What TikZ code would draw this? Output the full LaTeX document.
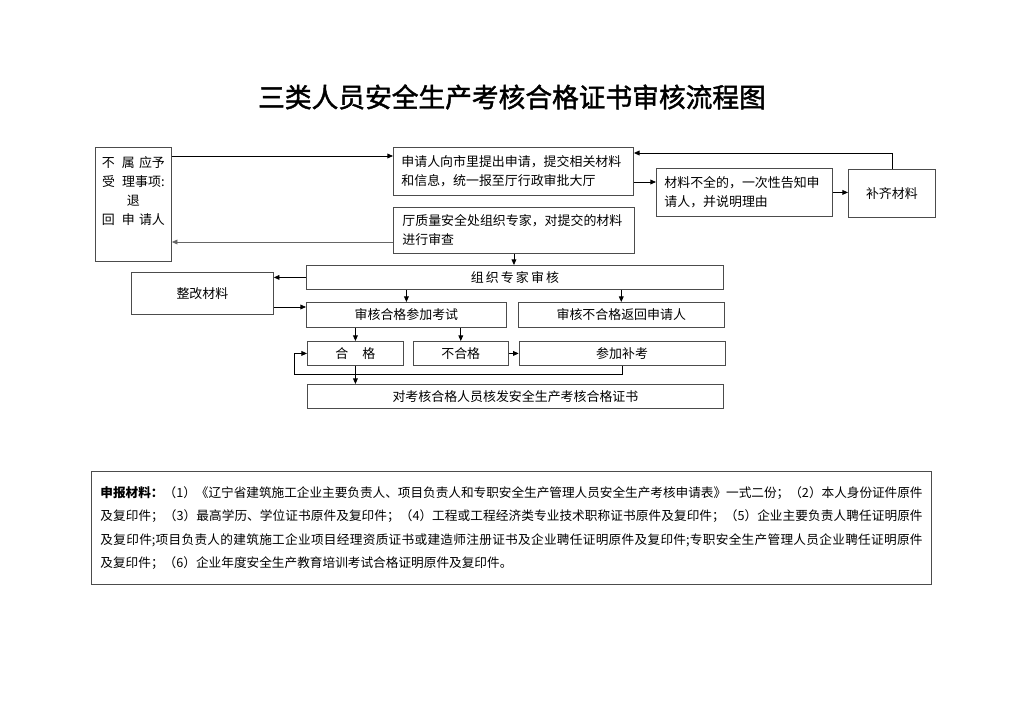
\documentclass[tikz,border=0pt]{standalone}
\usepackage{fontspec}
\newfontfamily\cjk{Noto Sans CJK SC}
\newfontfamily\cjktitle[FakeBold=1.6]{Noto Sans CJK SC}
\usetikzlibrary{arrows.meta,positioning}
\newcommand{\pxu}{0.025cm}

\begin{document}
\begin{tikzpicture}[x=0.025cm,y=-0.025cm,
		box/.style={draw=black!70,line width=0.6pt,inner sep=0pt,anchor=north west,font=\cjk\fontsize{9.2}{13.6}\selectfont},
		arr/.style={-{Triangle[length=4pt,width=3.4pt]},line width=0.6pt}]
	\useasboundingbox (0,0) rectangle (1024,724);
	% title
	\node (title) [font=\cjktitle\fontsize{19}{19}\selectfont] at (512,97) {三类人员安全生产考核合格证书审核流程图};
	% upper part
	\node (butui) [box,minimum width=76*\pxu,minimum height=114*\pxu] at (95,147) {\parbox[c][2.85cm][t]{1.9cm}{\centering\vspace*{6.5pt}不\hspace{5pt}属\hspace{3pt}应予\\受\hspace{5pt}理事项:\\退\\回\hspace{5pt}申\hspace{3pt}请人}};
	\node (shenqing) [box,minimum width=240*\pxu,minimum height=48*\pxu,text width=5.6cm,inner xsep=8*\pxu,align=left] at (393,147) {申请人向市里提出申请，提交相关材料\\和信息，统一报至厅行政审批大厅};
	\node (shencha) [box,minimum width=241*\pxu,minimum height=46*\pxu,text width=5.575cm,inner xsep=9*\pxu,align=left] at (393,207) {厅质量安全处组织专家，对提交的材料\\进行审查};
	\node (queshao) [box,minimum width=176*\pxu,minimum height=48*\pxu,text width=4cm,inner xsep=8*\pxu,align=left] at (656,168) {材料不全的，一次性告知申\\请人，并说明理由};
	\node (buqi) [box,minimum width=87*\pxu,minimum height=48*\pxu] at (848,169) {补齐材料};
	% review and exam
	\node (zhuanjia) [box,minimum width=417*\pxu,minimum height=24*\pxu] at (306,265) {组\hspace{1.5pt}织\hspace{1.5pt}专\hspace{1.5pt}家\hspace{1.5pt}审\hspace{1.5pt}核};
	\node (zhenggai) [box,minimum width=142*\pxu,minimum height=42*\pxu] at (131,272) {整改材料};
	\node (kaoshi) [box,minimum width=200*\pxu,minimum height=25*\pxu] at (306,302) {审核合格参加考试};
	\node (fanhui) [box,minimum width=206*\pxu,minimum height=25*\pxu,right=11*\pxu of kaoshi] {审核不合格返回申请人};
	\node (hege) [box,minimum width=96*\pxu,minimum height=24*\pxu] at (307,341) {合\hspace{10pt}格};
	\node (buhege) [box,minimum width=95*\pxu,minimum height=24*\pxu,right=9*\pxu of hege] {不合格};
	\node (bukao) [box,minimum width=206*\pxu,minimum height=24*\pxu,right=10*\pxu of buhege] {参加补考};
	\node (zhengshu) [box,minimum width=416*\pxu,minimum height=24*\pxu] at (307,384) {对考核合格人员核发安全生产考核合格证书};
	% materials
	\node (cailiao) [box,minimum width=840*\pxu,minimum height=113*\pxu,text width=20.55cm,inner xsep=9*\pxu,align=justify,font=\cjk\fontsize{9}{16.7}\selectfont] at (91,471) {\XeTeXlinebreaklocale "zh"\XeTeXlinebreakskip=0pt plus 1pt minus 0.4pt
		{\bfseries 申报材料：}（1）《辽宁省建筑施工企业主要负责人、项目负责人和专职安全生产管理人员安全生产考核申请表》一式二份；（2）本人身份证件原件\linebreak
		及复印件；（3）最高学历、学位证书原件及复印件；（4）工程或工程经济类专业技术职称证书原件及复印件；（5）企业主要负责人聘任证明原件\linebreak
		及复印件;项目负责人的建筑施工企业项目经理资质证书或建造师注册证书及企业聘任证明原件及复印件;专职安全生产管理人员企业聘任证明原件\linebreak
		及复印件；（6）企业年度安全生产教育培训考试合格证明原件及复印件。};
	% connectors
	\draw[arr] (butui.east |- 0,156) -- (shenqing.west |- 0,156);
	\draw[arr,black!60] (shencha.west |- 0,242) -- (butui.east |- 0,242);
	\draw[arr] (shenqing.east |- 0,182) -- (queshao.west |- 0,182);
	\draw[arr] (queshao.east) -- (buqi.west |- queshao.east);
	\draw[arr] (buqi.north) |- (shenqing.east |- 0,153);
	\draw[arr] (shencha.south) -- (zhuanjia.north -| shencha.south);
	\draw[arr] (zhuanjia.west) -- (zhenggai.east |- zhuanjia.west);
	\draw[arr] (zhenggai.east |- 0,307) -- (kaoshi.west |- 0,307);
	\draw[arr] (zhuanjia.south -| kaoshi.north) -- (kaoshi.north);
	\draw[arr] (zhuanjia.south -| fanhui.north) -- (fanhui.north);
	\draw[arr] (kaoshi.south -| hege.north) -- (hege.north);
	\draw[arr] (kaoshi.south -| buhege.north) -- (buhege.north);
	\draw[arr] (buhege.east) -- (bukao.west);
	\draw[arr] (bukao.south) -- ++(0,9) -| ([xshift=-13*\pxu]hege.west) -- (hege.west);
	\draw[arr] (hege.south) -- (hege.south |- zhengshu.north);
\end{tikzpicture}
\end{document}
